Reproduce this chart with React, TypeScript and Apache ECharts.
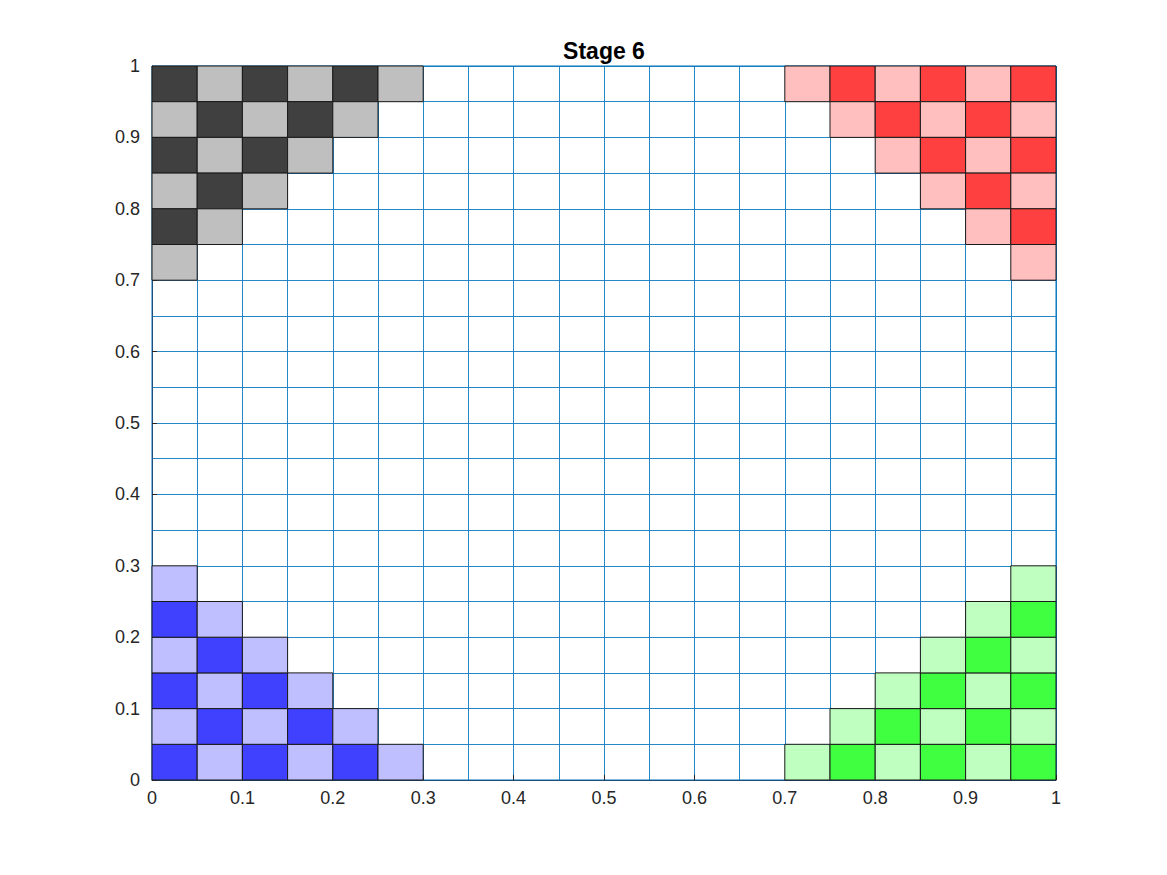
import React, { useEffect, useRef } from "react";
import * as echarts from "echarts";

const TITLE = "Stage 6";
const CELL = 0.05;
const TICK_LABELS = ["0", "0.1", "0.2", "0.3", "0.4", "0.5", "0.6", "0.7", "0.8", "0.9", "1"];

// [x0, y0, shade] ; shade 1 = dark, 0 = light
const grayCells: number[][] = [
  [0, 0.95, 1], [0.05, 0.95, 0], [0.1, 0.95, 1], [0.15, 0.95, 0], [0.2, 0.95, 1], [0.25, 0.95, 0],
  [0, 0.9, 0], [0.05, 0.9, 1], [0.1, 0.9, 0], [0.15, 0.9, 1], [0.2, 0.9, 0],
  [0, 0.85, 1], [0.05, 0.85, 0], [0.1, 0.85, 1], [0.15, 0.85, 0],
  [0, 0.8, 0], [0.05, 0.8, 1], [0.1, 0.8, 0],
  [0, 0.75, 1], [0.05, 0.75, 0],
  [0, 0.7, 0],
];
const redCells: number[][] = [
  [0.7, 0.95, 0], [0.75, 0.95, 1], [0.8, 0.95, 0], [0.85, 0.95, 1], [0.9, 0.95, 0], [0.95, 0.95, 1],
  [0.75, 0.9, 0], [0.8, 0.9, 1], [0.85, 0.9, 0], [0.9, 0.9, 1], [0.95, 0.9, 0],
  [0.8, 0.85, 0], [0.85, 0.85, 1], [0.9, 0.85, 0], [0.95, 0.85, 1],
  [0.85, 0.8, 0], [0.9, 0.8, 1], [0.95, 0.8, 0],
  [0.9, 0.75, 0], [0.95, 0.75, 1],
  [0.95, 0.7, 0],
];
const blueCells: number[][] = [
  [0, 0, 1], [0.05, 0, 0], [0.1, 0, 1], [0.15, 0, 0], [0.2, 0, 1], [0.25, 0, 0],
  [0, 0.05, 0], [0.05, 0.05, 1], [0.1, 0.05, 0], [0.15, 0.05, 1], [0.2, 0.05, 0],
  [0, 0.1, 1], [0.05, 0.1, 0], [0.1, 0.1, 1], [0.15, 0.1, 0],
  [0, 0.15, 0], [0.05, 0.15, 1], [0.1, 0.15, 0],
  [0, 0.2, 1], [0.05, 0.2, 0],
  [0, 0.25, 0],
];
const greenCells: number[][] = [
  [0.7, 0, 0], [0.75, 0, 1], [0.8, 0, 0], [0.85, 0, 1], [0.9, 0, 0], [0.95, 0, 1],
  [0.75, 0.05, 0], [0.8, 0.05, 1], [0.85, 0.05, 0], [0.9, 0.05, 1], [0.95, 0.05, 0],
  [0.8, 0.1, 0], [0.85, 0.1, 1], [0.9, 0.1, 0], [0.95, 0.1, 1],
  [0.85, 0.15, 0], [0.9, 0.15, 1], [0.95, 0.15, 0],
  [0.9, 0.2, 0], [0.95, 0.2, 1],
  [0.95, 0.25, 0],
];

const PALETTES: Record<string, [string, string]> = {
  gray: ["#bfbfbf", "#404040"],
  red: ["#ffbfbf", "#ff4040"],
  blue: ["#bfbfff", "#4040ff"],
  green: ["#bfffbf", "#40ff40"],
};

function cellSeries(name: string, cells: number[][]) {
  const pal = PALETTES[name];
  return {
    type: "custom",
    name,
    data: cells,
    renderItem: (_params: any, api: any) => {
      const x0 = api.value(0);
      const y0 = api.value(1);
      const shade = api.value(2);
      const p0 = api.coord([x0, y0 + CELL]);
      const p1 = api.coord([x0 + CELL, y0]);
      return {
        type: "rect",
        shape: { x: p0[0], y: p0[1], width: p1[0] - p0[0], height: p1[1] - p0[1] },
        style: { fill: pal[shade], stroke: "#1a1a1a", lineWidth: 1 },
      };
    },
  };
}

const FONT = "'Liberation Sans', Arial, Helvetica, sans-serif";

export default function App() {
  const ref = useRef<HTMLDivElement>(null);
  useEffect(() => {
    if (!ref.current) return;
    const chart = echarts.init(ref.current, undefined, { renderer: "svg" });
    const axisCommon = {
      type: "value",
      min: 0,
      max: 1,
      interval: 0.1,
      axisLine: { show: true, lineStyle: { color: "#1f4e79", width: 1 } },
      axisTick: { show: true, inside: true, length: 5, lineStyle: { color: "#262626" } },
      axisLabel: {
        color: "#262626",
        fontSize: 18,
        fontFamily: FONT,
        formatter: (v: number) => TICK_LABELS[Math.round(v * 10)],
      },
      splitLine: { show: true, lineStyle: { color: "#0072BD", width: 1, opacity: 0.85 } },
      minorTick: { show: false, splitNumber: 2 },
      minorSplitLine: { show: true, lineStyle: { color: "#0072BD", width: 1, opacity: 0.85 } },
    };
    chart.setOption({
      animation: false,
      backgroundColor: "#ffffff",
      title: {
        text: TITLE,
        left: 591,
        textAlign: "center",
        top: 26,
        textStyle: { fontSize: 23, fontWeight: "bold", color: "#000", fontFamily: FONT },
      },
      grid: {
        left: 144,
        right: 103,
        top: 58,
        bottom: 87,
        show: true,
        borderColor: "#0072BD",
        borderWidth: 1,
        containLabel: false,
      },
      xAxis: { ...axisCommon, axisLabel: { ...axisCommon.axisLabel, margin: 9 } },
      yAxis: { ...axisCommon, axisLabel: { ...axisCommon.axisLabel, margin: 12 } },
      series: [
        cellSeries("gray", grayCells),
        cellSeries("red", redCells),
        cellSeries("blue", blueCells),
        cellSeries("green", greenCells),
      ],
    });
    return () => chart.dispose();
  }, []);
  return <div ref={ref} style={{ width: 1151, height: 859 }} />;
}
